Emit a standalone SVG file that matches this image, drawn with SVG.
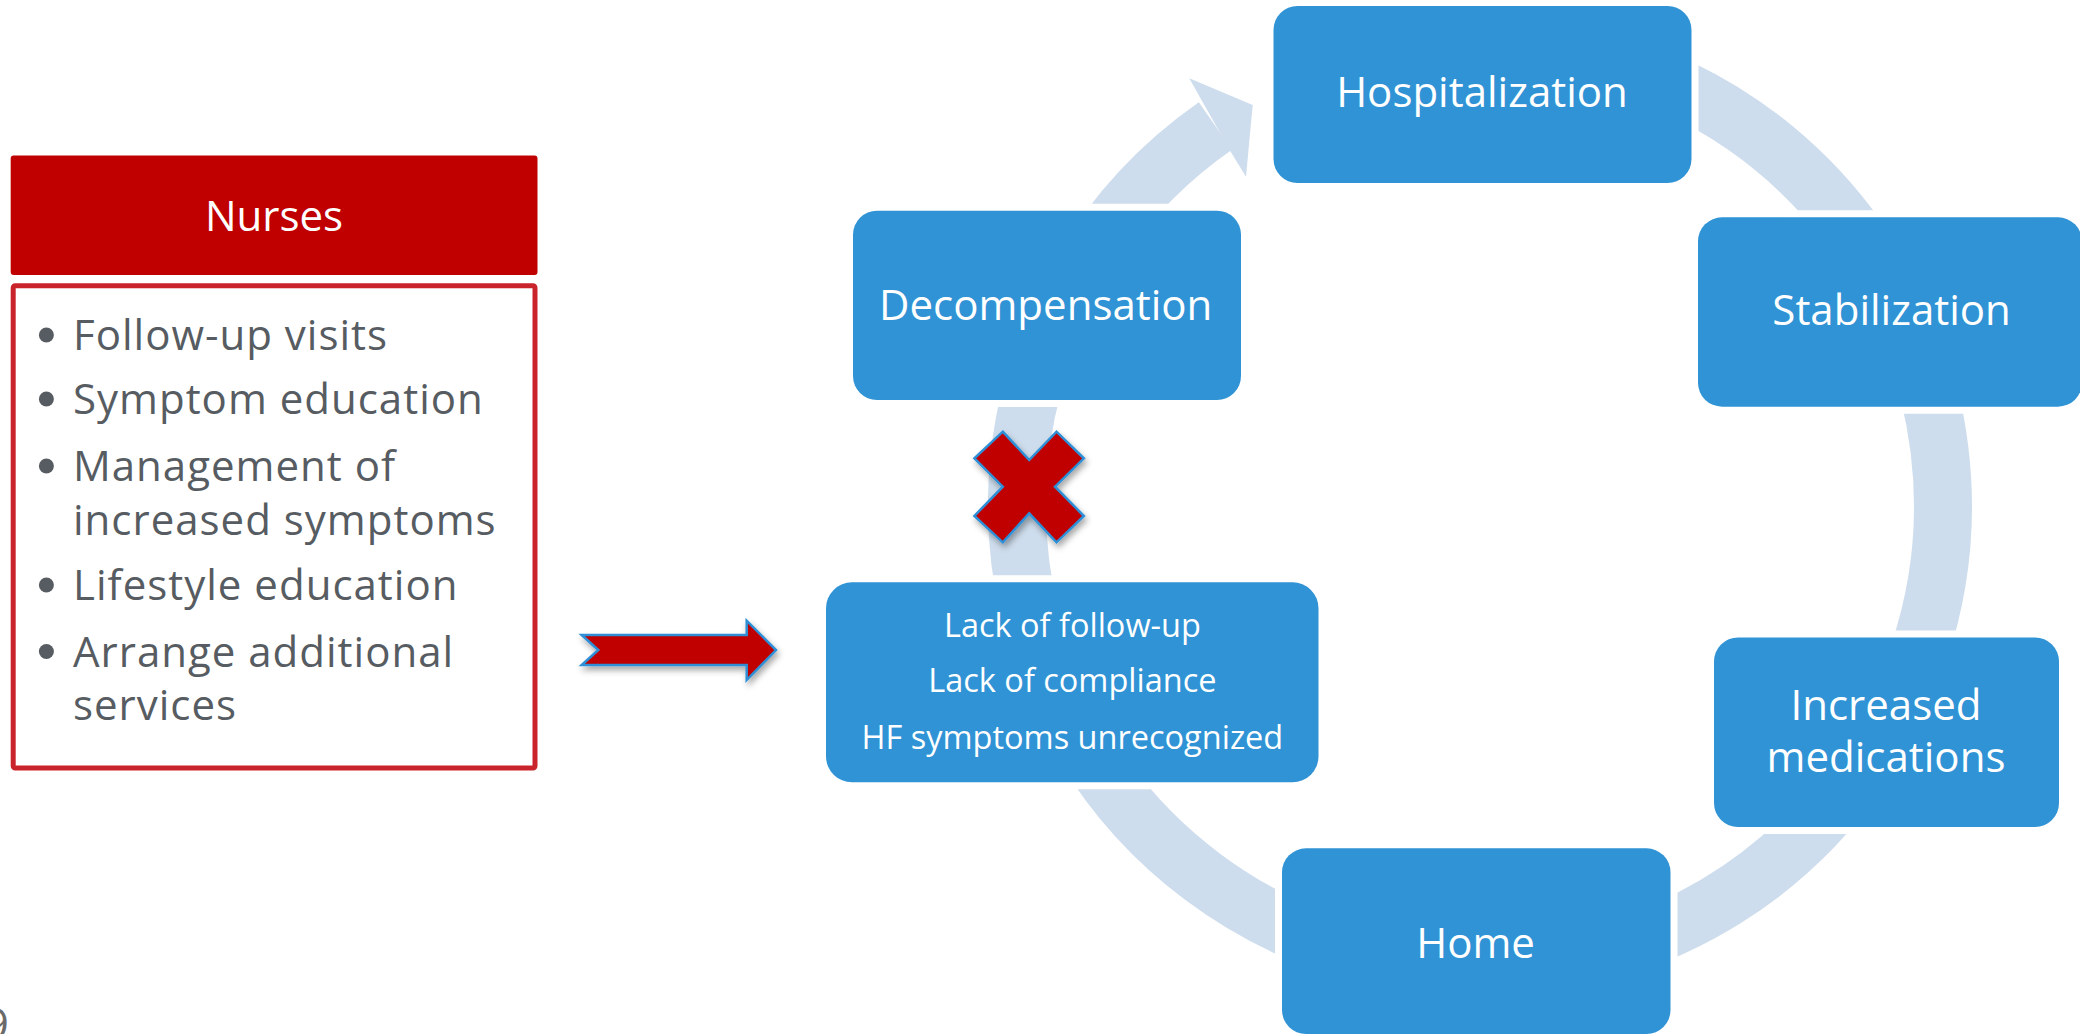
<svg xmlns="http://www.w3.org/2000/svg" width="2080" height="1034" viewBox="0 0 2080 1034">
  <defs>
    <filter id="shadow" x="-20%" y="-20%" width="140%" height="150%">
      <feDropShadow dx="2" dy="4" stdDeviation="3" flood-color="#000" flood-opacity="0.35"/>
    </filter>
  </defs>
  <style>
    .box { fill: #2f93d5; stroke: #ffffff; stroke-width: 14; paint-order: stroke; }
    .lbl { font-family: "Open Sans", "Liberation Sans", sans-serif; font-size: 42px; fill: #ffffff; text-anchor: middle; }
    .lbl2 { font-family: "Open Sans", "Liberation Sans", sans-serif; font-size: 32.5px; fill: #ffffff; text-anchor: middle; }
    .bul { font-family: "Open Sans", "Liberation Sans", sans-serif; font-size: 42px; fill: #565c61; letter-spacing: 1px; }
    .dot { fill: #565c61; }
    .ring { fill: none; stroke: #cedded; stroke-width: 58; }
    .head { fill: #cedded; }
    .red { fill: #c00000; stroke: #2e8fd6; stroke-width: 2.5; stroke-linejoin: miter; filter: url(#shadow); }
  </style>
  <rect width="2080" height="1034" fill="#ffffff"/>

  <!-- cycle connectors -->
  <g id="connectors">
    <path class="ring" d="M 1480 43 A 463 463 0 1 1 1215.4 126"/>
    <polygon class="head" points="1189.3,78.3 1252.7,105 1246,176.7 1231,152.3 1203.3,103.3"/>
  </g>

  <!-- Nurses panel -->
  <g id="nurses-header">
    <rect x="10.7" y="155.5" width="526.8" height="119.5" rx="3" fill="#c00000"/>
    <text x="274" y="230.6" font-family="Open Sans, Liberation Sans, sans-serif" font-size="42" fill="#ffffff" text-anchor="middle">Nurses</text>
  </g>
  <g id="nurses-list">
    <rect x="13.2" y="285.8" width="521.8" height="482.3" rx="2" fill="#ffffff" stroke="#c9232b" stroke-width="5"/>
    <circle class="dot" cx="46.4" cy="335" r="7.5"/>
    <text class="bul" x="73" y="350">Follow-up visits</text>
    <circle class="dot" cx="46.4" cy="399" r="7.5"/>
    <text class="bul" x="73" y="414">Symptom education</text>
    <circle class="dot" cx="46.4" cy="466" r="7.5"/>
    <text class="bul" x="73" y="481">Management of</text>
    <text class="bul" x="73" y="535">increased symptoms</text>
    <circle class="dot" cx="46.4" cy="585" r="7.5"/>
    <text class="bul" x="73" y="600">Lifestyle education</text>
    <circle class="dot" cx="46.4" cy="651.5" r="7.5"/>
    <text class="bul" x="73" y="666.5">Arrange additional</text>
    <text class="bul" x="73" y="719.6">services</text>
  </g>

  <!-- red arrow -->
  <g id="red-arrow">
    <polygon class="red" points="581.7,635 598.3,650 581.7,665 746.7,665 746.7,680 776,650 746.7,620.7 746.7,635"/>
  </g>

  <!-- red cross -->
  <g id="red-cross">
    <polygon class="red" points="1002.8,431.7 1029.2,460 1056.5,431.7 1083.9,458.3 1055,486.7 1083.9,516 1056.5,542.3 1029.2,513.3 1002.8,542.3 974.4,516 1002.8,486.7 974.4,458.3"/>
  </g>

  <!-- cycle nodes -->
  <g id="hospitalization">
    <rect class="box" x="1273.5" y="6" width="418" height="177" rx="24"/>
    <text class="lbl" x="1482" y="107.3">Hospitalization</text>
  </g>
  <g id="stabilization">
    <rect class="box" x="1698" y="217.3" width="384" height="189.4" rx="24"/>
    <text class="lbl" x="1891.6" y="325">Stabilization</text>
  </g>
  <g id="increased-medications">
    <rect class="box" x="1714" y="637.5" width="345" height="189.5" rx="24"/>
    <text class="lbl" x="1886" y="720">Increased</text>
    <text class="lbl" x="1886" y="771.7">medications</text>
  </g>
  <g id="home">
    <rect class="box" x="1282" y="848.3" width="388.5" height="185.7" rx="24"/>
    <text class="lbl" x="1475.6" y="958.3">Home</text>
  </g>
  <g id="causes">
    <rect class="box" x="826" y="582.3" width="492.5" height="200" rx="26"/>
    <text class="lbl2" x="1072.4" y="636.7">Lack of follow-up</text>
    <text class="lbl2" x="1072.4" y="691.7">Lack of compliance</text>
    <text class="lbl2" x="1072.4" y="749.3">HF symptoms unrecognized</text>
  </g>
  <g id="decompensation">
    <rect class="box" x="853" y="210.7" width="388" height="189.3" rx="24"/>
    <text class="lbl" x="1045.7" y="320">Decompensation</text>
  </g>

  <!-- page number fragment -->
  <text x="9" y="1040" font-family="Open Sans, Liberation Sans, sans-serif" font-size="44" fill="#6a6a6a" text-anchor="end">9</text>
</svg>
